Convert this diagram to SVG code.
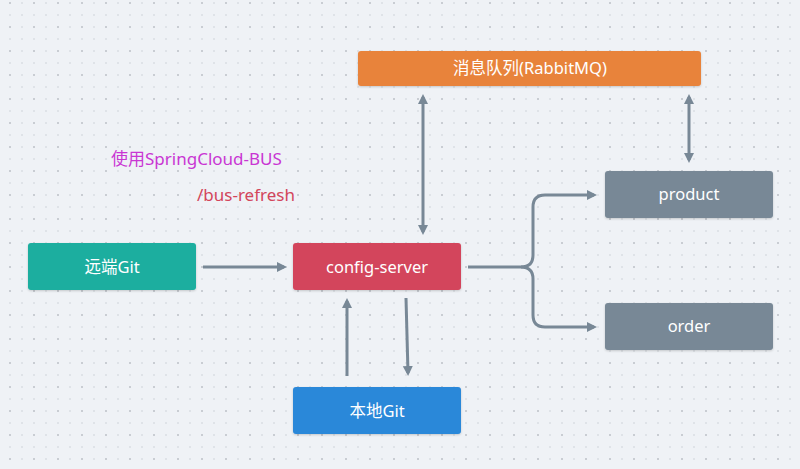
<svg xmlns="http://www.w3.org/2000/svg" width="800" height="469" viewBox="0 0 800 469">
<defs>
<pattern id="grid" x="0" y="0" width="24" height="24" patternUnits="userSpaceOnUse">
<rect x="9" y="2" width="2" height="2" fill="#c9cdd3"/>
<rect x="21" y="2" width="2" height="2" fill="#dfe3e8"/>
<rect x="9" y="14" width="2" height="2" fill="#dfe3e8"/>
<rect x="21" y="14" width="2" height="2" fill="#dfe3e8"/>
</pattern>
<filter id="sh" x="-10%" y="-20%" width="120%" height="150%">
<feDropShadow dx="0" dy="1" stdDeviation="1.2" flood-color="#000" flood-opacity="0.18"/>
</filter>
<marker id="ah" viewBox="0 0 10 10" refX="7" refY="5" markerWidth="10" markerHeight="11" markerUnits="userSpaceOnUse" orient="auto-start-reverse">
<path d="M0,0 L10,5 L0,10 z" fill="#788896"/>
</marker>
<style>
.n rect{filter:url(#sh)}
.lbl{font-family:"Noto Sans","Noto Sans CJK SC",sans-serif;font-size:16.5px;fill:#ffffff;text-anchor:middle}
.ann{font-family:"Noto Sans","Noto Sans CJK SC",sans-serif;font-size:17px}
.c path{fill:none;stroke:#788896;stroke-width:3}
</style>
</defs>
<rect width="800" height="469" fill="#eff2f6"/>
<rect width="800" height="469" fill="url(#grid)"/>

<g id="connectors" class="c">
<path d="M203,267 H284" marker-end="url(#ah)"/>
<path d="M423,97 V232" marker-start="url(#ah)" marker-end="url(#ah)"/>
<path d="M689,97 V160" marker-start="url(#ah)" marker-end="url(#ah)"/>
<path d="M468,267 H521 Q533,267 533,255 V207 Q533,195 545,195 H594" marker-end="url(#ah)"/>
<path d="M521,267 Q533,267 533,279 V315 Q533,327 545,327 H594" marker-end="url(#ah)"/>
<path d="M347,376 V301" marker-end="url(#ah)"/>
<path d="M406,298 L408,373" marker-end="url(#ah)"/>
</g>

<g id="annotations">
<text class="ann" x="111" y="165" fill="#c936d3">使用SpringCloud-BUS</text>
<text class="ann" x="197" y="201" fill="#d3455b">/bus-refresh</text>
</g>

<g id="remote-git" class="n">
<rect x="28" y="243" width="168" height="47" rx="3" fill="#1aae9f"/>
<text class="lbl" x="112" y="273">远端Git</text>
</g>
<g id="config-server" class="n">
<rect x="293" y="243" width="168" height="47" rx="3" fill="#d3455b"/>
<text class="lbl" x="377" y="273">config-server</text>
</g>
<g id="local-git" class="n">
<rect x="293" y="387" width="168" height="47" rx="3" fill="#2c88d9"/>
<text class="lbl" x="377" y="417">本地Git</text>
</g>
<g id="rabbitmq" class="n">
<rect x="358" y="51" width="343" height="35" rx="3" fill="#e8833a"/>
<text class="lbl" x="530" y="74">消息队列(RabbitMQ)</text>
</g>
<g id="product" class="n">
<rect x="605" y="171" width="168" height="47" rx="3" fill="#788896"/>
<text class="lbl" x="689" y="200">product</text>
</g>
<g id="order" class="n">
<rect x="605" y="303" width="168" height="47" rx="3" fill="#788896"/>
<text class="lbl" x="689" y="332">order</text>
</g>
</svg>
